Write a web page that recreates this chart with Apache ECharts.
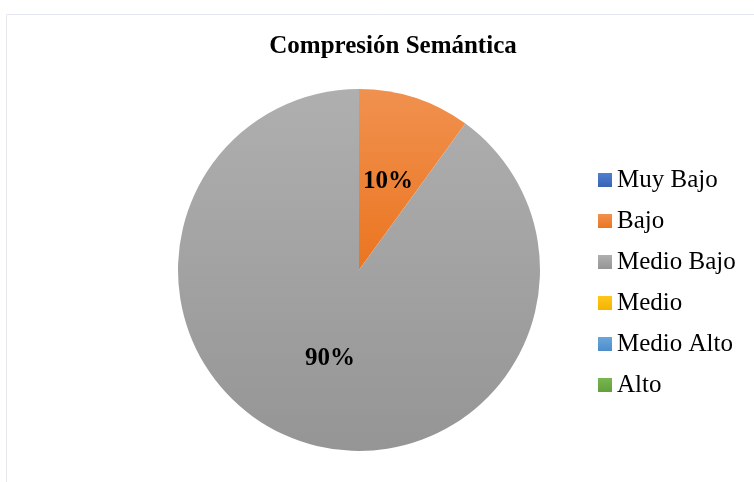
<!DOCTYPE html>
<html>
<head>
<meta charset="utf-8">
<script src="https://cdn.jsdelivr.net/npm/echarts@6/dist/echarts.min.js"></script>
<style>
  html, body { margin: 0; padding: 0; background: #fff; }
  #chart { width: 754px; height: 482px; }
</style>
</head>
<body>
<div id="chart"></div>
<script>
// data
const categories = ['Muy Bajo', 'Bajo', 'Medio Bajo', 'Medio', 'Medio Alto', 'Alto']
const values = [0, 10, 90, 0, 0, 0]
const colorsTop = ['#4f7fd0', '#f0914f', '#afafaf', '#ffc61a', '#69a6dc', '#79b651']
const colorsBottom = ['#3a64b4', '#eb7520', '#959595', '#f4b400', '#4d8dc9', '#62a03c']

const chart = echarts.init(document.getElementById('chart'))

const pieData = categories.map((name, i) => ({
  name: name,
  value: values[i],
  itemStyle: {
    color: new echarts.graphic.LinearGradient(0, 0, 0, 1, [
      { offset: 0, color: colorsTop[i] },
      { offset: 1, color: colorsBottom[i] }
    ])
  }
}))

chart.setOption({
  animation: false,
  title: {
    text: 'Compresión Semántica',
    left: 388,
    top: 29,
    textAlign: 'center',
    textStyle: {
      fontFamily: 'Liberation Serif',
      fontWeight: 'bold',
      fontSize: 25,
      color: '#000'
    }
  },
  legend: {
    orient: 'vertical',
    left: 598,
    top: 167,
    padding: 0,
    itemWidth: 14,
    itemHeight: 14,
    itemGap: 15,
    icon: 'rect',
    data: categories,
    textStyle: {
      fontFamily: 'Liberation Serif',
      fontSize: 25,
      color: '#000',
      lineHeight: 26
    }
  },
  graphic: [{
    type: 'polyline',
    shape: { points: [[6.5, 482], [6.5, 14.5], [754, 14.5]] },
    style: { stroke: '#e4e7ef', lineWidth: 1, fill: null }
  }],
  series: [{
    type: 'pie',
    center: [359, 270],
    radius: [0, 181],
    startAngle: 90,
    clockwise: true,
    label: {
      position: 'inside',
      formatter: p => p.value > 0 ? p.percent.toFixed(0) + '%' : '',
      fontFamily: 'Liberation Serif',
      fontWeight: 'bold',
      fontSize: 25,
      color: '#000'
    },
    labelLine: { show: false },
    itemStyle: { borderWidth: 0 },
    emphasis: { disabled: true },
    data: pieData
  }]
})
</script>
</body>
</html>
